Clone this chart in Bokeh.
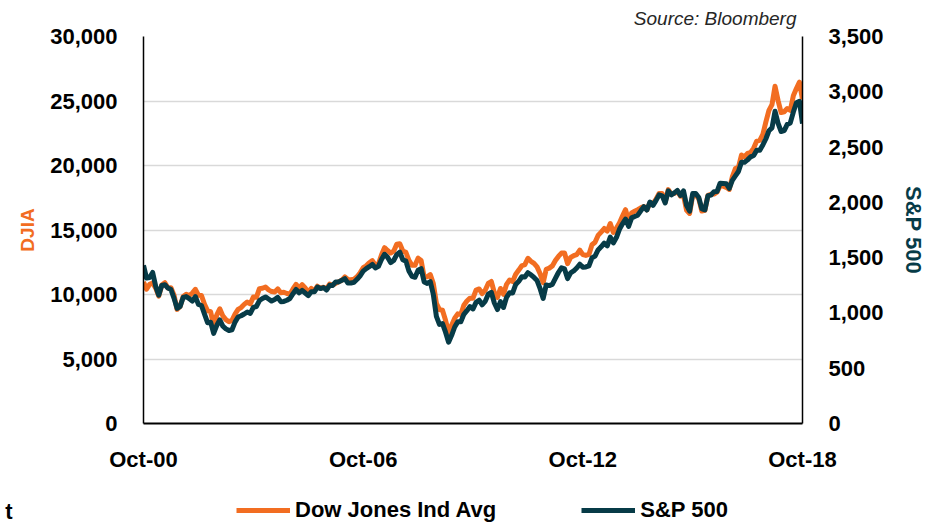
import numpy as np
from bokeh.plotting import figure
from bokeh.layouts import column
from bokeh.models import (Range1d, LinearAxis, FixedTicker, NumeralTickFormatter,
                          Legend, LegendItem)
from bokeh.embed import file_html
from bokeh.resources import INLINE

# Monthly closes, Oct 2000 .. Oct 2018
dow = [
    10971, 10415, 10787,
    10887, 10495, 9879, 10735, 10912, 10502, 10523, 9950, 8848, 9075, 9852, 10022,
    9920, 10106, 10404, 9946, 9925, 9243, 8737, 8664, 7592, 8397, 8896, 8342,
    8054, 7891, 7992, 8480, 8850, 8985, 9234, 9416, 9275, 9801, 9782, 10454,
    10488, 10584, 10358, 10226, 10188, 10435, 10140, 10174, 10080, 10027, 10428, 10783,
    10490, 10766, 10504, 10193, 10467, 10275, 10641, 10482, 10569, 10440, 10806, 10718,
    10865, 10993, 11109, 11367, 11168, 11150, 11186, 11381, 11679, 12081, 12222, 12463,
    12622, 12269, 12354, 13063, 13628, 13409, 13212, 13358, 13896, 13930, 13372, 13265,
    12650, 12266, 12263, 12820, 12638, 11350, 11378, 11544, 10851, 9325, 8829, 8776,
    8001, 7063, 7609, 8168, 8500, 8447, 9172, 9496, 9712, 9713, 10345, 10428,
    10067, 10325, 10857, 11009, 10137, 9774, 10466, 10015, 10788, 11118, 11006, 11578,
    11892, 12226, 12320, 12811, 12570, 12414, 12143, 11614, 10913, 11955, 12046, 12218,
    12633, 12952, 13212, 13214, 12393, 12880, 13009, 13091, 13437, 13096, 13026, 13104,
    13861, 14054, 14579, 14840, 15116, 14910, 15500, 14810, 15130, 15546, 16086, 16577,
    15699, 16322, 16458, 16581, 16717, 16827, 16563, 17098, 17043, 17391, 17828, 17823,
    17165, 18133, 17776, 17841, 18011, 17620, 17690, 16528, 16285, 17664, 17720, 17425,
    16466, 16517, 17685, 17774, 17787, 17930, 18432, 18401, 18308, 18142, 19124, 19763,
    19864, 20812, 20663, 20941, 21009, 21350, 21891, 21948, 22405, 23377, 24272, 24719,
    26149, 25029, 24103, 24163, 24416, 24271, 25415, 25965, 26458, 25116,
]
spx = [
    1429.4, 1315.2, 1320.3,
    1366.0, 1239.9, 1160.3, 1249.5, 1255.8, 1224.4, 1211.2, 1133.6, 1040.9, 1059.8, 1139.5, 1148.1,
    1130.2, 1106.7, 1147.4, 1076.9, 1067.1, 989.8, 911.6, 916.1, 815.3, 885.8, 936.3, 879.8,
    855.7, 841.2, 848.2, 916.9, 963.6, 974.5, 990.3, 1008.0, 996.0, 1050.7, 1058.2, 1111.9,
    1131.1, 1144.9, 1126.2, 1107.3, 1120.7, 1140.8, 1101.7, 1104.2, 1114.6, 1130.2, 1173.8, 1211.9,
    1181.3, 1203.6, 1180.6, 1156.9, 1191.5, 1191.3, 1234.2, 1220.3, 1228.8, 1207.0, 1249.5, 1248.3,
    1280.1, 1280.7, 1294.9, 1310.6, 1270.1, 1270.2, 1276.7, 1303.8, 1335.9, 1377.9, 1400.6, 1418.3,
    1438.2, 1406.8, 1420.9, 1482.4, 1530.6, 1503.4, 1455.3, 1474.0, 1526.8, 1549.4, 1481.1, 1468.4,
    1378.6, 1330.6, 1322.7, 1385.6, 1400.4, 1280.0, 1267.4, 1282.8, 1166.4, 968.8, 896.2, 903.3,
    825.9, 735.1, 797.9, 872.8, 919.1, 919.3, 987.5, 1020.6, 1057.1, 1036.2, 1095.6, 1115.1,
    1073.9, 1104.5, 1169.4, 1186.7, 1089.4, 1030.7, 1101.6, 1049.3, 1141.2, 1183.3, 1180.6, 1257.6,
    1286.1, 1327.2, 1325.8, 1363.6, 1345.2, 1320.6, 1292.3, 1218.9, 1131.4, 1253.3, 1247.0, 1257.6,
    1312.4, 1365.7, 1408.5, 1397.9, 1310.3, 1362.2, 1379.3, 1406.6, 1440.7, 1412.2, 1416.2, 1426.2,
    1498.1, 1514.7, 1569.2, 1597.6, 1630.7, 1606.3, 1685.7, 1633.0, 1681.6, 1756.5, 1805.8, 1848.4,
    1782.6, 1859.5, 1872.3, 1884.0, 1923.6, 1960.2, 1930.7, 2003.4, 1972.3, 2018.1, 2067.6, 2058.9,
    1995.0, 2104.5, 2067.9, 2085.5, 2107.4, 2063.1, 2103.8, 1972.2, 1920.0, 2079.4, 2080.4, 2043.9,
    1940.2, 1932.2, 2059.7, 2065.3, 2097.0, 2098.9, 2173.6, 2171.0, 2168.3, 2126.2, 2198.8, 2238.8,
    2278.9, 2363.6, 2362.7, 2384.2, 2411.8, 2423.4, 2470.3, 2471.7, 2519.4, 2575.3, 2647.6, 2673.6,
    2823.8, 2713.8, 2640.9, 2648.1, 2705.3, 2718.4, 2816.3, 2901.5, 2914.0, 2711.7,
]
x_tick_pos = [0, 72, 144, 216]
x_tick_labels = ["Oct-00", "Oct-06", "Oct-12", "Oct-18"]
djia_ticks = [0, 5000, 10000, 15000, 20000, 25000, 30000]
spx_ticks = [0, 500, 1000, 1500, 2000, 2500, 3000, 3500]
series_names = ["Dow Jones Ind Avg", "S&P 500"]
strip_text = "t"   # clipped word at the left edge of the legend row

ORANGE = "#F26D21"
TEAL = "#073B47"
FONT = "Liberation Sans"

x = np.arange(len(dow))

# ---------------- main chart ----------------
p = figure(width=937, height=480, output_backend="svg", toolbar_location=None,
           x_range=Range1d(0, 216), y_range=Range1d(0, 30000),
           min_border_left=143, min_border_right=135, min_border_top=36,
           min_border_bottom=57, title="Source: Bloomberg")
p.outline_line_color = None
p.xgrid.grid_line_color = None
p.ygrid.grid_line_color = "#d9d9d9"
p.ygrid.grid_line_width = 1.5
p.ygrid.ticker = FixedTicker(ticks=djia_ticks)

p.title.align = "right"
p.title.vertical_align = "top"
p.title.text_font = FONT
p.title.text_font_style = "italic"
p.title.text_font_size = "19px"
p.title.text_color = "#262626"
p.title.offset = 6
p.title.standoff = 12

p.extra_y_ranges = {"spx": Range1d(0, 3500)}

p.line(x, dow, line_color=ORANGE, line_width=5, line_join="round")
p.line(x, spx, line_color=TEAL, line_width=5, line_join="round", y_range_name="spx")

def style_axis(ax):
    ax.major_tick_line_color = None
    ax.minor_tick_line_color = None
    ax.major_tick_out = 0
    ax.major_tick_in = 0
    ax.minor_tick_out = 0
    ax.minor_tick_in = 0
    ax.axis_line_color = "black"
    ax.axis_line_width = 1.5
    ax.major_label_text_font = FONT
    ax.major_label_text_font_style = "bold"
    ax.major_label_text_font_size = "22px"
    ax.major_label_text_color = "black"
    ax.axis_label_text_font = FONT
    ax.axis_label_text_font_style = "bold"

xa = p.xaxis[0]
style_axis(xa)
xa.axis_line_width = 2
xa.ticker = FixedTicker(ticks=x_tick_pos)
xa.major_label_overrides = {t: l for t, l in zip(x_tick_pos, x_tick_labels)}
xa.major_label_standoff = 23

ya = p.yaxis[0]
style_axis(ya)
ya.ticker = FixedTicker(ticks=djia_ticks)
ya.formatter = NumeralTickFormatter(format="0,0")
ya.major_label_standoff = 26
ya.axis_label = "DJIA"
ya.axis_label_text_color = ORANGE
ya.axis_label_text_font_size = "19px"
ya.axis_label_standoff = 9

ra = LinearAxis(y_range_name="spx", ticker=FixedTicker(ticks=spx_ticks),
                formatter=NumeralTickFormatter(format="0,0"))
style_axis(ra)
ra.major_label_standoff = 26
ra.axis_label = "S&P 500"
ra.axis_label_text_color = TEAL
ra.axis_label_text_font_size = "22px"
ra.axis_label_standoff = 14
p.add_layout(ra, "right")

# ---------------- legend strip ----------------
lf = figure(width=937, height=47, output_backend="svg", toolbar_location=None,
            x_range=Range1d(0, 1), y_range=Range1d(0, 1),
            x_axis_type=None, y_axis_type=None,
            min_border_left=143, min_border_right=135, min_border_top=0, min_border_bottom=0)
lf.outline_line_color = None
lf.grid.grid_line_color = None
# same series (outside this strip's view) so the legend shows their line styles
l_dow = lf.line(x, dow, line_color=ORANGE, line_width=5)
l_spx = lf.line(x, spx, line_color=TEAL, line_width=5)

legend = Legend(items=[LegendItem(label=series_names[0], renderers=[l_dow]),
                       LegendItem(label=series_names[1], renderers=[l_spx])],
                orientation="horizontal", location=(93, 4),
                glyph_width=54, glyph_height=26, label_standoff=5, spacing=85,
                padding=0, margin=0, border_line_color=None, background_fill_alpha=0,
                label_text_font=FONT, label_text_font_style="bold",
                label_text_font_size="22px", label_text_color="black")
lf.add_layout(legend, "center")

t_axis = LinearAxis(ticker=FixedTicker(ticks=[0.34]),
                    major_label_overrides={0.34: strip_text})
style_axis(t_axis)
t_axis.axis_line_color = None
t_axis.major_label_standoff = 131
lf.add_layout(t_axis, "left")

open("out.html", "w").write(file_html(column(p, lf, spacing=0), INLINE))
